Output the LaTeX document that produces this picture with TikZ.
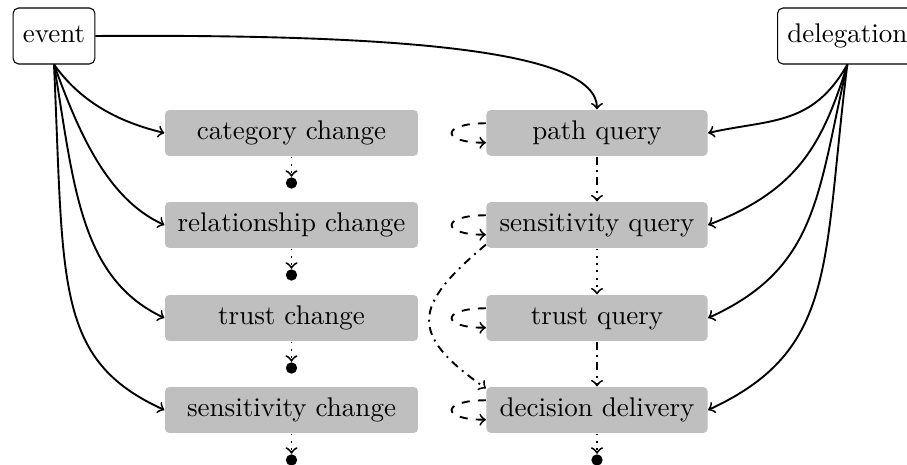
\documentclass[tikz,border=0pt]{standalone}
\usetikzlibrary{arrows}
\begin{document}
\begin{tikzpicture}[x=0.37pt,y=-0.37pt,
  conn/.style={line width=0.7pt,->},
  endbox/.style={draw,line width=0.4pt,rounded corners=2pt,fill=white,inner xsep=3.6pt,minimum height=20.7pt,text height=6.9pt,text depth=1.9pt},
  graybox/.style={fill=black!25,rounded corners=1.6pt,minimum height=17pt,inner sep=0pt,text height=6.9pt,text depth=1.9pt},
  lbox/.style={graybox,minimum width=93.6pt},
  rbox/.style={graybox,minimum width=81.8pt},
  enddot/.style={circle,fill=black,inner sep=0pt,minimum size=4.2pt},
  selfloop/.style={conn,dashed},
  dd/.style={conn,dash dot},
  dt/.style={conn,dotted}]
\useasboundingbox (0,0) rectangle (907,465);
\node[endbox] (event) at (54,36) {event};
\node[endbox,anchor=west] (deleg) at (777,36) {delegation};
\node[lbox] (cc) at (291.5,133) {category change};
\node[lbox] (rc) at (291.5,225) {relationship change};
\node[lbox] (tc) at (291.5,318) {trust change};
\node[lbox] (sc) at (291.5,410) {sensitivity change};
\node[rbox] (pq) at (597,133) {path query};
\node[rbox] (sq) at (597,225) {sensitivity query};
\node[rbox] (tq) at (597,318) {trust query};
\node[rbox] (ddel) at (597,410) {decision delivery};
\node[enddot] (d1) at (291.5,183) {};
\node[enddot] (d2) at (291.5,275) {};
\node[enddot] (d3) at (291.5,368) {};
\node[enddot] (d4) at (291.5,460) {};
\node[enddot] (d5) at (597,460) {};
% event fan
\draw[conn] (event.south) .. controls +(25,35) and +(-50,-12) .. (cc.west);
\draw[conn] (event.south) .. controls +(22,60) and +(-60,-27) .. (rc.west);
\draw[conn] (event.south) .. controls +(20,120) and +(-85,-40) .. (tc.west);
\draw[conn] (event.south) .. controls +(10,220) and +(-110,-50) .. (sc.west);
% delegation fan
\draw[conn] (deleg.south) .. controls +(-35,62) and +(62,-14) .. (pq.east);
\draw[conn] (deleg.south) .. controls +(-25,80) and +(90,-35) .. (sq.east);
\draw[conn] (deleg.south) .. controls +(-30,130) and +(110,-50) .. (tq.east);
\draw[conn] (deleg.south) .. controls +(-25,200) and +(130,-60) .. (ddel.east);
% top curve
\draw[conn] (event.east) .. controls +(300,-2) and +(0,-60) .. (pq.north);
% left chains
\draw[dt] (cc) -- (d1);
\draw[dt] (rc) -- (d2);
\draw[dt] (tc) -- (d3);
\draw[dt] (sc) -- (d4);
% right chain
\draw[dd] (pq) -- (sq);
\draw[dt] (sq) -- (tq);
\draw[dd] (tq) -- (ddel);
\draw[dt] (ddel) -- (d5);
% self loops
\draw[selfloop] (pq.175) to[out=180,in=180,looseness=6] (pq.185);
\draw[selfloop] (sq.175) to[out=180,in=180,looseness=6] (sq.185);
\draw[selfloop] (tq.175) to[out=180,in=180,looseness=6] (tq.185);
\draw[selfloop] (ddel.175) to[out=180,in=180,looseness=6] (ddel.185);
% sensitivity query to decision delivery
\draw[dd] (sq.190) to[out=-140,in=145,looseness=1.7] (ddel.169);
\end{tikzpicture}
\end{document}
